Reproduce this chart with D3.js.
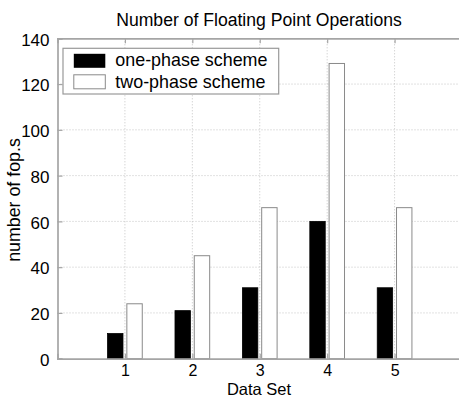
<!DOCTYPE html>
<html><head><meta charset="utf-8">
<script src="https://cdn.jsdelivr.net/npm/d3@7"></script>
<style>body{margin:0;background:#fff}svg{display:block}text{font-family:"Liberation Sans",Arial,sans-serif;fill:#000}</style>
</head><body><svg id="c" width="459" height="399"></svg>
<script>
const categories = [1, 2, 3, 4, 5];
const onePhase = [11, 21, 31, 60, 31];
const twoPhase = [24, 45, 66, 129, 66];
const seriesNames = ["one-phase scheme", "two-phase scheme"];
const yTicks = [0, 20, 40, 60, 80, 100, 120, 140];

const svg = d3.select("#c");
const L = 57.5, R = 462, T = 38.3, B = 358.7;
const x = d3.scaleLinear().domain([0, 6]).range([L, R]);
const y = d3.scaleLinear().domain([0, 140]).range([B, T]);
const gridC = "#c4c4c4", axC = "#a5a5a5";

// grid
const g = svg.append("g");
g.selectAll(".gx").data(categories).join("line")
  .attr("x1", d => x(d)).attr("x2", d => x(d)).attr("y1", T).attr("y2", B)
  .attr("stroke", gridC).attr("stroke-dasharray", "1,2");
g.selectAll(".gy").data(yTicks.filter(d => d > 0 && d < 140)).join("line")
  .attr("x1", L).attr("x2", R).attr("y1", d => y(d)).attr("y2", d => y(d))
  .attr("stroke", gridC).attr("stroke-dasharray", "1,2");

// bars
const bw = 0.2286, off = 0.143;
svg.append("g").selectAll("rect").data(categories).join("rect")
  .attr("x", (d) => x(d - off - bw / 2)).attr("width", x(bw) - x(0))
  .attr("y", (d, i) => y(onePhase[i])).attr("height", (d, i) => y(0) - y(onePhase[i]))
  .attr("fill", "#000").attr("stroke", "#000").attr("stroke-width", 0.8);
svg.append("g").selectAll("rect").data(categories).join("rect")
  .attr("x", (d) => x(d + off - bw / 2)).attr("width", x(bw) - x(0))
  .attr("y", (d, i) => y(twoPhase[i])).attr("height", (d, i) => y(0) - y(twoPhase[i]))
  .attr("fill", "#fff").attr("stroke", "#8a8a8a").attr("stroke-width", 1);

// axes
const xb = svg.append("g").attr("transform", `translate(0,${B})`)
  .call(d3.axisBottom(x).tickValues(categories).tickSize(-5).tickPadding(6).tickFormat(d3.format("d")));
const xt = svg.append("g").attr("transform", `translate(0,${T})`)
  .call(d3.axisTop(x).tickValues(categories).tickSize(-5).tickFormat(""));
const yl = svg.append("g").attr("transform", `translate(${L},0)`)
  .call(d3.axisLeft(y).tickValues(yTicks).tickSize(-5).tickPadding(8));
[xb, xt, yl].forEach(a => {
  a.select(".domain").attr("stroke", axC).attr("stroke-width", 1.7);
  a.selectAll(".tick line").attr("stroke", axC).attr("stroke-width", 1.2);
  a.selectAll(".tick text").style("font-size", "17px").style("font-family", '"Liberation Sans",Arial,sans-serif').attr("fill", "#000");
});
xb.selectAll(".tick text").style("font-size", "16px");
yl.selectAll(".tick text").attr("dy", "0.4em");

// title & labels
svg.append("text").attr("x", 259).attr("y", 26).attr("text-anchor", "middle")
  .style("font-size", "17.6px").text("Number of Floating Point Operations");
svg.append("text").attr("x", 259).attr("y", 395).attr("text-anchor", "middle")
  .style("font-size", "16.5px").text("Data Set");
svg.append("text").attr("transform", "translate(20,200) rotate(-90)").attr("text-anchor", "middle")
  .style("font-size", "17.8px").text("number of fop.s");

// legend
const lg = svg.append("g");
lg.append("rect").attr("x", 63).attr("y", 48.3).attr("width", 215.7).attr("height", 45.7)
  .attr("fill", "#fff").attr("stroke", "#999").attr("stroke-width", 1.2);
lg.append("rect").attr("x", 73.8).attr("y", 53.8).attr("width", 31.5).attr("height", 14)
  .attr("fill", "#000");
lg.append("rect").attr("x", 73.8).attr("y", 74.8).attr("width", 31.5).attr("height", 14)
  .attr("fill", "#fff").attr("stroke", "#8a8a8a");
lg.append("text").attr("x", 115.3).attr("y", 66).style("font-size", "17.9px").text(seriesNames[0]);
lg.append("text").attr("x", 115.3).attr("y", 87.5).style("font-size", "17.9px").text(seriesNames[1]);
</script></body></html>
